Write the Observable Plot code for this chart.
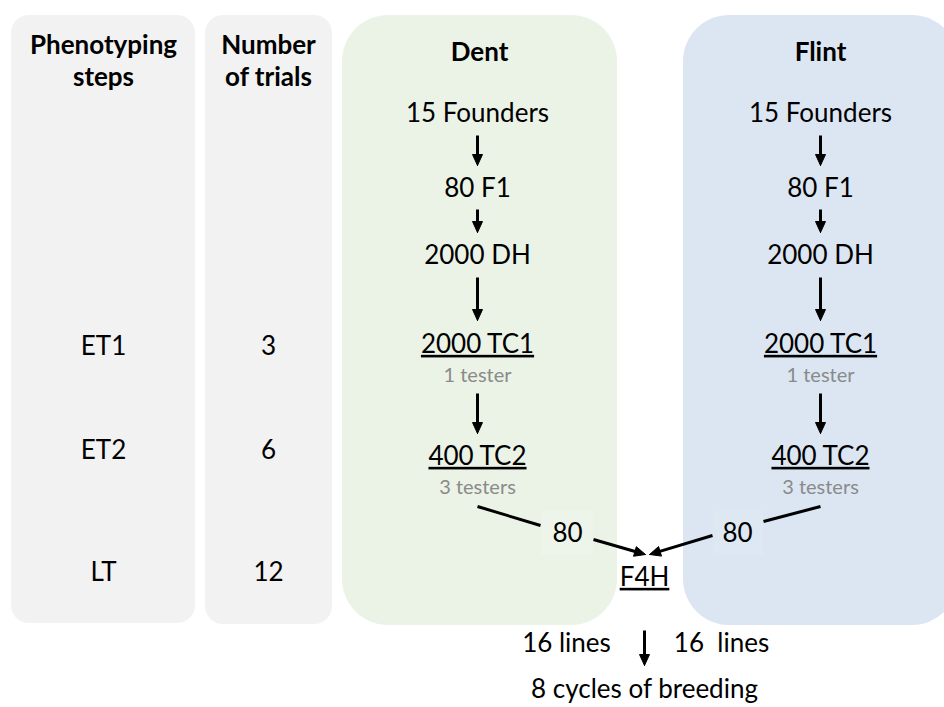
<!DOCTYPE html>
<html><head><meta charset="utf-8">
<script src="https://cdn.jsdelivr.net/npm/d3@7"></script>
<script src="https://cdn.jsdelivr.net/npm/@observablehq/plot@0.6"></script>
<style>
  body { margin: 0; background: #fff; }
  #chart svg { display: block; }
</style>
</head><body><div id="chart"></div>
<script>
// ---------------- data (text content only) ----------------
const headers = ["Phenotyping\nsteps", "Number\nof trials"];
const phenotypingSteps = ["ET1", "ET2", "LT"];
const trialCounts = [3, 6, 12];
const groups = ["Dent", "Flint"];
const stages = ["15 Founders", "80 F1", "2000 DH", "2000 TC1", "400 TC2"];
const testerNotes = ["1 tester", "3 testers"];
const selectedPerGroup = [80, 80];
const crossName = "F4H";
const linesPerGroup = ["16 lines", "16  lines"];
const breedingLabel = "8 cycles of breeding";
const underlinedLabels = ["2000 TC1", "400 TC2", "F4H"];

// ---------------- layout (positions & styles) ----------------
const W = 944, H = 707;
const FONT = "Lato, 'Open Sans', sans-serif";
const SIZE = 26, NOTE_SIZE = 20;
const panels = [
  {x1: 11,  x2: 195, y1: 15, y2: 623, fill: "#f2f2f2", r: 18},
  {x1: 205, x2: 332, y1: 15, y2: 624, fill: "#f2f2f2", r: 18},
  {x1: 342, x2: 617, y1: 15, y2: 625, fill: "#ebf3e7", r: 46},
  {x1: 683, x2: 958, y1: 15, y2: 625, fill: "#dce6f2", r: 46}
];
const colX = {steps: 103, trials: 268, Dent: 477, Flint: 820, cross: 644};
const titleX = {Dent: 479, Flint: 820};
const headerY = 59, titleY = 52;
const stageY = [113, 188, 255, 344, 456];
const noteY = [375, 487];
const stepY = [346, 450, 572];
const stageArrowY = [[135, 165], [209, 232], [277, 320], [393, 433]];
const selection = {
  Dent:  {lineFrom: [477, 506], lineTo: [540, 525], label: [567, 533], box: [541, 593, 511, 555], boxFill: "#edf4ea", arrowFrom: [593, 539], tip: [645, 554]},
  Flint: {lineFrom: [820, 506], lineTo: [763, 521], label: [737, 533], box: [713, 763, 511, 555], boxFill: "#dee8f3", arrowFrom: [712, 535], tip: [649, 554]}
};
const crossY = 577;
const bottomArrow = [[644, 630], [644, 665]];
const linesX = [566, 721], linesY = 643;
const breedingY = 689;

// ---------------- derived tables ----------------
const headerRows = headers.map((t, i) => ({x: [colX.steps, colX.trials][i], y: headerY, text: t}));
const leftRows = [
  ...phenotypingSteps.map((t, i) => ({x: colX.steps, y: stepY[i], text: t})),
  ...trialCounts.map((t, i) => ({x: colX.trials, y: stepY[i], text: String(t)}))
];
const titleRows = groups.map(g => ({x: titleX[g], y: titleY, text: g}));
const stageRows = groups.flatMap(g => stages.map((s, i) => ({x: colX[g], y: stageY[i], text: s})));
const noteRows = groups.flatMap(g => testerNotes.map((s, i) => ({x: colX[g], y: noteY[i], text: s})));
const selRows = groups.map((g, i) => ({x: selection[g].label[0], y: selection[g].label[1], text: String(selectedPerGroup[i])}));
const boxRows = groups.map(g => {const [x1, x2, y1, y2] = selection[g].box; return {x1, x2, y1, y2, fill: selection[g].boxFill};});
const bottomRows = [
  {x: colX.cross, y: crossY, text: crossName},
  ...linesPerGroup.map((t, i) => ({x: linesX[i], y: linesY, text: t})),
  {x: colX.cross, y: breedingY, text: breedingLabel}
];

// arrows: {from, to}
const arrows = [
  ...groups.flatMap(g => stageArrowY.map(([a, b]) => ({from: [colX[g], a], to: [colX[g], b]}))),
  ...groups.map(g => ({from: selection[g].arrowFrom, to: selection[g].tip})),
  {from: bottomArrow[0], to: bottomArrow[1]}
];
const plainLines = groups.map(g => ({from: selection[g].lineFrom, to: selection[g].lineTo}));

const HEAD_L = 11, HEAD_W = 5;
const shafts = arrows.map(({from, to}) => {
  const dx = to[0] - from[0], dy = to[1] - from[1], L = Math.hypot(dx, dy);
  const ux = dx / L, uy = dy / L;
  return {x1: from[0], y1: from[1], x2: to[0] - ux * (HEAD_L - 2), y2: to[1] - uy * (HEAD_L - 2)};
}).concat(plainLines.map(({from, to}) => ({x1: from[0], y1: from[1], x2: to[0], y2: to[1]})));
const heads = arrows.flatMap(({from, to}, id) => {
  const dx = to[0] - from[0], dy = to[1] - from[1], L = Math.hypot(dx, dy);
  const ux = dx / L, uy = dy / L, nx = -uy, ny = ux;
  const bx = to[0] - ux * HEAD_L, by = to[1] - uy * HEAD_L;
  return [
    {id, x: to[0], y: to[1]},
    {id, x: bx + nx * HEAD_W, y: by + ny * HEAD_W},
    {id, x: bx - nx * HEAD_W, y: by - ny * HEAD_W},
    {id, x: to[0], y: to[1]}
  ];
});

const chart = Plot.plot({
  width: W, height: H,
  margin: 0,
  x: {domain: [0, W], range: [0, W], axis: null},
  y: {domain: [0, H], range: [0, H], axis: null},
  style: {fontFamily: FONT, background: "white", overflow: "hidden"},
  marks: [
    Plot.rect(panels, {x1: "x1", x2: "x2", y1: "y1", y2: "y2", fill: d => d.fill, rx: 18, ry: 18, filter: d => d.r < 30}),
    Plot.rect(panels, {x1: "x1", x2: "x2", y1: "y1", y2: "y2", fill: d => d.fill, rx: 46, ry: 46, filter: d => d.r >= 30}),
    Plot.rect(boxRows, {x1: "x1", x2: "x2", y1: "y1", y2: "y2", fill: d => d.fill}),
    Plot.link(shafts, {x1: "x1", y1: "y1", x2: "x2", y2: "y2", stroke: "black", strokeWidth: 3}),
    Plot.line(heads, {x: "x", y: "y", z: "id", fill: "black", stroke: "black", strokeWidth: 1, strokeLinejoin: "miter"}),
    Plot.text(headerRows, {x: "x", y: "y", text: "text", fontWeight: "bold", fontSize: SIZE, lineHeight: 1.22, fill: "black"}),
    Plot.text(titleRows, {x: "x", y: "y", text: "text", fontWeight: "bold", fontSize: SIZE, fill: "black"}),
    Plot.text(leftRows, {x: "x", y: "y", text: "text", fontSize: SIZE, fill: "black"}),
    Plot.text(stageRows, {x: "x", y: "y", text: "text", fontSize: SIZE, fill: "black"}),
    Plot.text(noteRows, {x: "x", y: "y", text: "text", fontSize: NOTE_SIZE, fill: "#8a8a8a"}),
    Plot.text(selRows, {x: "x", y: "y", text: "text", fontSize: SIZE, fill: "black"}),
    Plot.text(bottomRows, {x: "x", y: "y", text: "text", fontSize: SIZE, fill: "black"})
  ]
});

d3.select(chart).selectAll("text").each(function() {
  if (underlinedLabels.includes(this.textContent)) {
    this.style.textDecoration = "underline";
    this.style.textDecorationThickness = "2px";
    this.style.textUnderlineOffset = "3px";
  }
});
document.getElementById("chart").appendChild(chart);
</script>
</body></html>
